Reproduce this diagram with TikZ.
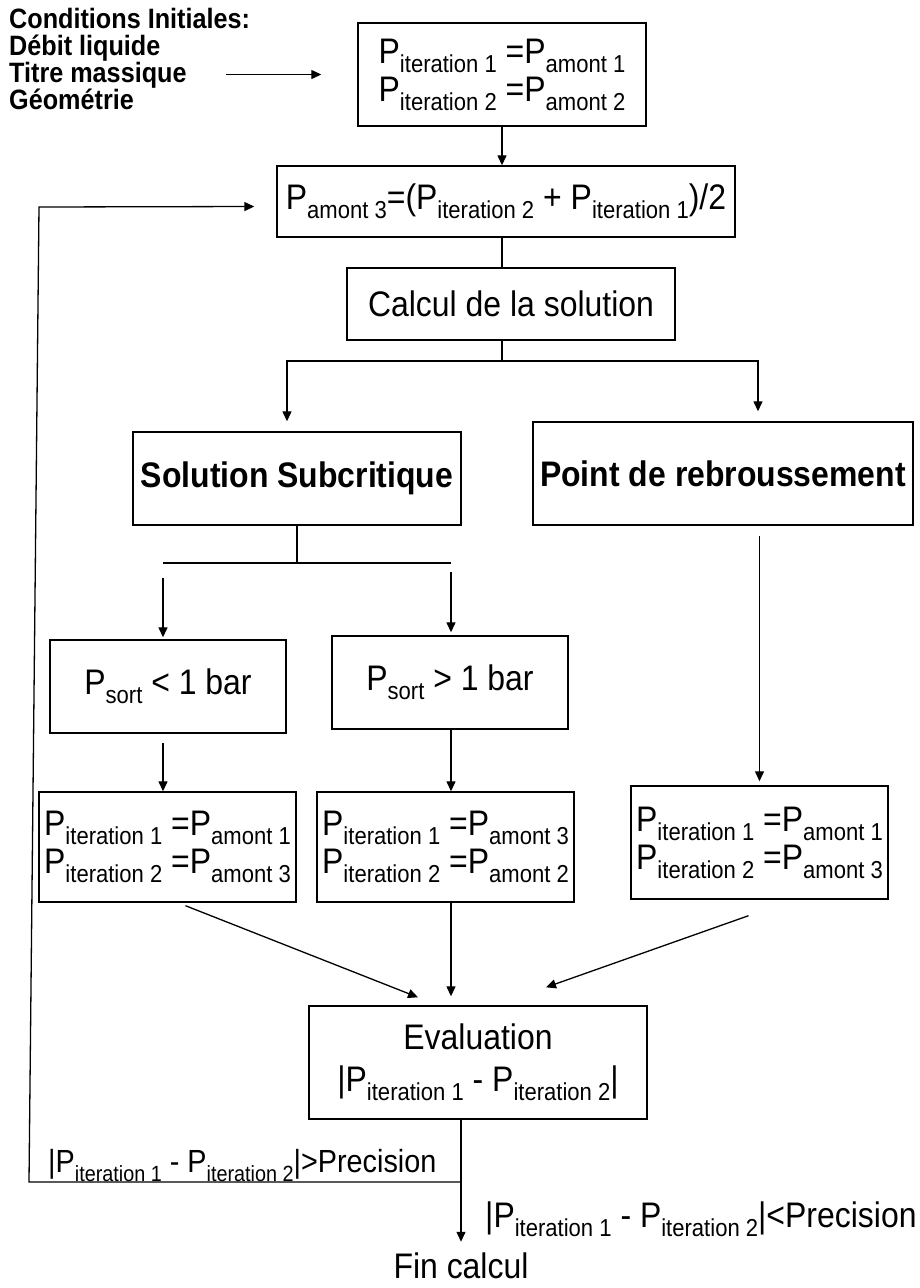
\documentclass[tikz,border=0pt]{standalone}
\usepackage{fontspec}
\setmainfont[FakeStretch=0.9]{Liberation Sans}
\usepackage{tikz}
\usetikzlibrary{arrows.meta,calc}
\newcommand{\taille}{\fontsize{35.5}{38}\selectfont\lineskiplimit=-50pt}
\newcommand{\Pind}[2][24.5]{P\raisebox{-9pt}{\fontsize{#1}{#1}\selectfont #2}}
\tikzset{
  boite/.style  = {draw, line width=1.4pt, align=center, inner sep=0pt, font=\taille},
  grasse/.style = {boite, font=\taille\bfseries},
  texte/.style  = {align=center, inner sep=0pt, font=\taille},
  fleche/.style = {-{Triangle[length=10pt,width=9pt]}, line width=1.3pt},
  trait/.style  = {line width=1.3pt},
}

\begin{document}
\begin{tikzpicture}[x=1pt, y=-1pt]
      \useasboundingbox (0,0) rectangle (920,1288);

      \node[texte, anchor=north west, align=left, font=\fontsize{28}{27}\selectfont\bfseries] (cond) at (9,8)
        {Conditions Initiales:\\Débit liquide\\Titre massique\\Géométrie};
      \node[boite, minimum width=288pt, minimum height=103pt] (init) at (502,74.5)
        {\Pind{iteration 1} =\Pind{amont 1}\\\Pind{iteration 2} =\Pind{amont 2}};
      \node[boite, minimum width=458pt, minimum height=71pt] (moyenne) at (506,201.5)
        {\Pind{amont 3}=(\Pind{iteration 2} + \Pind{iteration 1})/2};
      \node[boite, minimum width=328pt, minimum height=72pt] (calcul) at (511,304) {Calcul de la solution};

      \node[grasse, minimum width=328pt, minimum height=93pt] (subcrit) at (297,478.5) {Solution Subcritique};
      \node[grasse, minimum width=380pt, minimum height=103pt] (rebrous) at (723,473.5) {Point de rebroussement};

      \node[boite, minimum width=236pt, minimum height=93pt] (psinf) at (168,686.5) {\Pind{sort} < 1 bar};
      \node[boite, minimum width=236pt, minimum height=93pt] (pssup) at (450,682.5) {\Pind{sort} > 1 bar};

      \node[boite, minimum width=257pt, minimum height=110pt] (res1) at (167.5,847)
        {\Pind{iteration 1} =\Pind{amont 1}\\\Pind{iteration 2} =\Pind{amont 3}};
      \node[boite, minimum width=257pt, minimum height=110pt] (res2) at (445.5,847)
        {\Pind{iteration 1} =\Pind{amont 3}\\\Pind{iteration 2} =\Pind{amont 2}};
      \node[boite, minimum width=257pt, minimum height=113pt] (res3) at (759.5,842.5)
        {\Pind{iteration 1} =\Pind{amont 1}\\\Pind{iteration 2} =\Pind{amont 3}};

      \node[boite, minimum width=338pt, minimum height=113pt] (eval) at (478,1062.5)
        {Evaluation\\[4pt]|\Pind{iteration 1} - \Pind{iteration 2}|};
      \node[texte] (fin) at (461,1266) {Fin calcul};

      \coordinate (bif1) at (502,361);
      \coordinate (bif2) at (297,563);
      \coordinate (bif2g) at (163,563);
      \coordinate (bif2d) at (451,563);
      \coordinate (sortie) at (461,1182);
      \coordinate (retourbas) at (29,1182);
      \coordinate (retourhaut) at (39,207);

      \draw[fleche] ($(init.west)+(-131,0)$) -- ($(init.west)+(-36,0)$);
      \draw[fleche] (init.south) -- (init.south |- moyenne.north);
      \draw[trait] (init.south |- moyenne.south) -- (init.south |- calcul.north);
      \draw[trait] (init.south |- calcul.south) -- (bif1);
      \draw[fleche] (bif1) -| ($(subcrit.north)+(-10,-10)$);
      \draw[fleche] (bif1) -| ($(rebrous.north)+(35,-10)$);

      \draw[trait] (subcrit.south) -- (bif2);
      \draw[trait] (bif2g) -- (bif2d);
      \draw[fleche] ($(bif2g)+(0,15)$) -- ($(psinf.north -| bif2g)+(0,-2)$);
      \draw[fleche] ($(bif2d)+(0,9)$) -- ($(pssup.north -| bif2d)+(0,-3)$);
      \draw[fleche] ($(psinf.south -| bif2g)+(0,9)$) -- (res1.north -| bif2g);
      \draw[fleche] (pssup.south -| bif2d) -- (res2.north -| bif2d);
      \draw[fleche] ($(rebrous.south -| res3.north)+(0,10)$) -- ($(res3.north)+(0,-4)$);

      \draw[fleche] ($(res1.south)+(18,3)$) -- ($(eval.north)+(-60,-8)$);
      \draw[fleche] (res2.south -| bif2d) -- ($(eval.north -| bif2d)+(0,-9)$);
      \draw[fleche] ($(res3.south)+(-11,16)$) -- ($(eval.north)+(68,-18)$);

      \draw[fleche] (eval.south -| sortie) -- ($(fin.north)+(0,-11)$);
      \draw[fleche] (sortie) -- (retourbas) -- (retourhaut) -- ($(moyenne.west)+(-22,5)$);
      \node[texte, anchor=base west, font=\fontsize{32}{32}\selectfont] (plusgrand) at (48,1172)
        {|\Pind[22]{iteration 1} - \Pind[22]{iteration 2}|>Precision};
      \node[texte, anchor=base west] (pluspetit) at (485,1227)
        {|\Pind{iteration 1} - \Pind{iteration 2}|<Precision};
\end{tikzpicture}
\end{document}
